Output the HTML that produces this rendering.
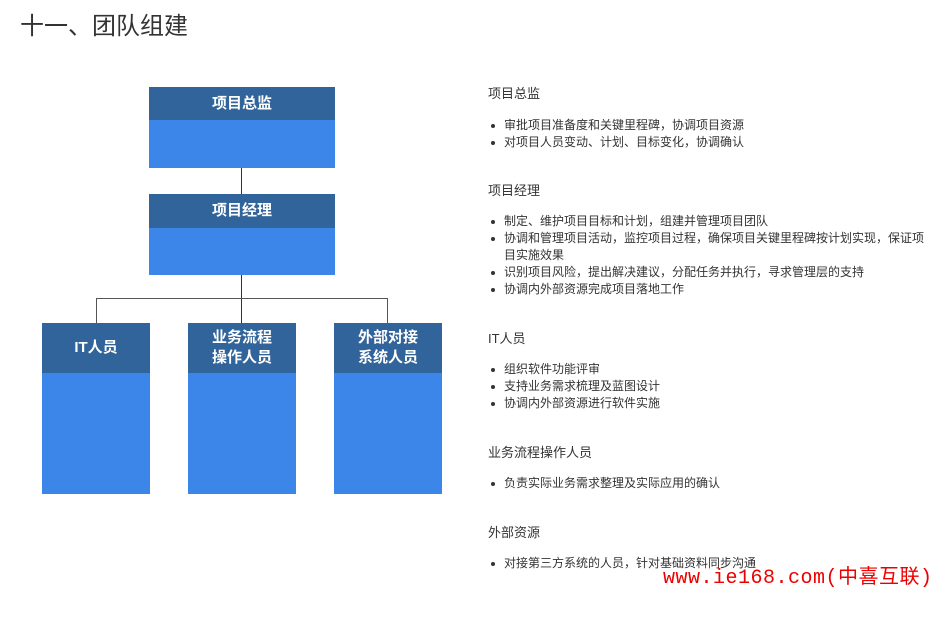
<!DOCTYPE html>
<html><head><meta charset="utf-8"><style>
body{margin:0;width:940px;height:622px;background:#fff;position:relative;overflow:hidden;font-family:"Liberation Sans","Noto Sans CJK SC",sans-serif;}
.a{position:absolute;}
.box{position:absolute;background:#3b86e8;}
.hd{position:absolute;left:0;top:0;width:100%;background:#31649a;color:#fff;font-weight:bold;font-size:15px;display:flex;align-items:center;justify-content:center;text-align:center;line-height:20px;}
.ln{position:absolute;background:#333;}
.h{position:absolute;left:488px;font-size:13px;color:#333;line-height:16px;}
.b{position:absolute;left:504px;font-size:12px;color:#333;line-height:17px;}
.b:before{content:"";position:absolute;left:-13px;top:7px;width:4px;height:4px;border-radius:2px;background:#333;}
</style></head><body>
<div class="a" style="left:20px;top:11px;font-size:24px;color:#333;line-height:32px;">十一、团队组建</div>

<div class="ln" style="left:241px;top:168px;width:1px;height:26px"></div>
<div class="ln" style="left:241px;top:275px;width:1px;height:48px"></div>
<div class="ln" style="left:96px;top:298px;width:292px;height:1px;background:#555"></div>
<div class="ln" style="left:96px;top:298px;width:1px;height:25px;background:#555"></div>
<div class="ln" style="left:387px;top:298px;width:1px;height:25px;background:#555"></div>

<div class="box" style="left:149px;top:87px;width:186px;height:81px"><div class="hd" style="height:33px">项目总监</div></div>
<div class="box" style="left:149px;top:194px;width:186px;height:81px"><div class="hd" style="height:34px">项目经理</div></div>
<div class="box" style="left:42px;top:323px;width:108px;height:171px"><div class="hd" style="height:50px">IT人员</div></div>
<div class="box" style="left:188px;top:323px;width:108px;height:171px"><div class="hd" style="height:50px">业务流程<br>操作人员</div></div>
<div class="box" style="left:334px;top:323px;width:108px;height:171px"><div class="hd" style="height:50px">外部对接<br>系统人员</div></div>

<div class="h" style="top:86px">项目总监</div>
<div class="b" style="top:117px">审批项目准备度和关键里程碑，协调项目资源</div>
<div class="b" style="top:134px">对项目人员变动、计划、目标变化，协调确认</div>
<div class="h" style="top:183px">项目经理</div>
<div class="b" style="top:213px">制定、维护项目目标和计划，组建并管理项目团队</div>
<div class="b" style="top:230px;width:425px">协调和管理项目活动，监控项目过程，确保项目关键里程碑按计划实现，保证项目实施效果</div>
<div class="b" style="top:264px">识别项目风险，提出解决建议，分配任务并执行，寻求管理层的支持</div>
<div class="b" style="top:281px">协调内外部资源完成项目落地工作</div>
<div class="h" style="top:331px">IT人员</div>
<div class="b" style="top:361px">组织软件功能评审</div>
<div class="b" style="top:378px">支持业务需求梳理及蓝图设计</div>
<div class="b" style="top:395px">协调内外部资源进行软件实施</div>
<div class="h" style="top:445px">业务流程操作人员</div>
<div class="b" style="top:475px">负责实际业务需求整理及实际应用的确认</div>
<div class="h" style="top:525px">外部资源</div>
<div class="b" style="top:555px">对接第三方系统的人员，针对基础资料同步沟通</div>
<div class="a" style="left:663px;top:567px;font-size:20px;color:#e00;font-family:'Liberation Mono','Noto Sans CJK SC',monospace;line-height:24px;white-space:nowrap;letter-spacing:0.5px">www.ie168.com(中喜互联)</div>
</body></html>
